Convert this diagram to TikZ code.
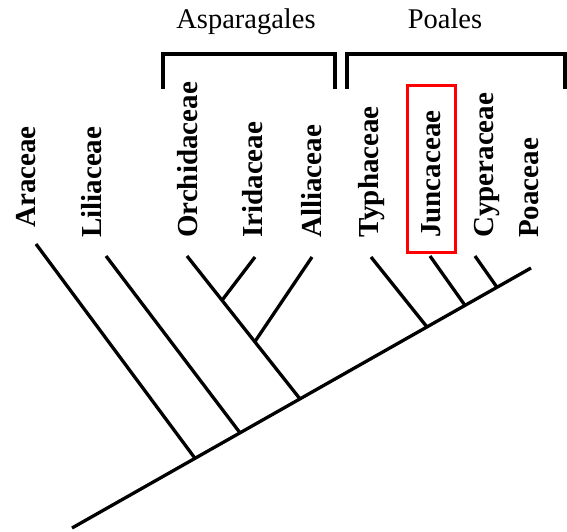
\documentclass[tikz,border=0pt]{standalone}
\usepackage{fontspec}
\setmainfont{Liberation Serif}
\usetikzlibrary{calc}
\tikzset{
  branch/.style={line width=3.3pt, line cap=butt},
  bracketline/.style={line width=3.2pt},
  taxon/.style={rotate=90, anchor=base west, inner sep=0pt, font=\fontsize{29}{29}\selectfont\bfseries},
  order/.style={anchor=base, inner sep=0pt, font=\fontsize{28.5}{28.5}\selectfont},
  redbox/.style={draw=red, line width=3pt},
}
\begin{document}
\begin{tikzpicture}[x=1pt,y=-1pt]
\useasboundingbox (0,0) rectangle (567,531);
% labels
\node[taxon] (lAra) at (35,228) {Araceae};
\node[taxon] (lLil) at (101,238) {Liliaceae};
\node[taxon] (lOrc) at (197,238) {Orchidaceae};
\node[taxon] (lIri) at (262,238) {Iridaceae};
\node[taxon] (lAll) at (321,238) {Alliaceae};
\node[taxon] (lTyp) at (378,238) {Typhaceae};
\node[taxon] (lJun) at (440,238) {Juncaceae};
\node[taxon] (lCyp) at (493,238) {Cyperaceae};
\node[taxon] (lPoa) at (538,238) {Poaceae};
\node[order] (asp) at (246,28) {Asparagales};
\node[order] (poa) at (445,28) {Poales};
% brackets
\draw[bracketline] (163,89) -- (163,54) -- (335,54) -- (335,89);
\draw[bracketline] (347,89) -- (347,54) -- (565,54) -- (565,89);
% red box
\node[redbox, minimum width=48pt, minimum height=167pt, inner sep=0pt] (hl) at (431.5,169) {};
% tree coordinates
\coordinate (root) at (72,528);
\coordinate (top) at (531,268);
\coordinate (jA) at (195,458.3);
\coordinate (jL) at (240,432.8);
\coordinate (jO) at (300,398.9);
\coordinate (jT) at (427,327);
\coordinate (jJ) at (465,305.4);
\coordinate (jC) at (497,287.3);
\coordinate (tA) at (36,244);
\coordinate (tL) at (106,256);
\coordinate (tO) at (187,256);
\coordinate (tI) at (255,257);
\coordinate (tAl) at (312,257);
\coordinate (tT) at (371,257);
\coordinate (tJ) at (430,256);
\coordinate (tC) at (475,256);
\coordinate (jI) at ($(tO)!0.31!(jO)$);
\coordinate (jAl) at ($(tO)!0.60!(jO)$);
% tree
\draw[branch] (root) -- (top);
\draw[branch] (tA) -- (jA);
\draw[branch] (tL) -- (jL);
\draw[branch] (tO) -- (jO);
\draw[branch] (tI) -- (jI);
\draw[branch] (tAl) -- (jAl);
\draw[branch] (tT) -- (jT);
\draw[branch] (tJ) -- (jJ);
\draw[branch] (tC) -- (jC);
\end{tikzpicture}
\end{document}
